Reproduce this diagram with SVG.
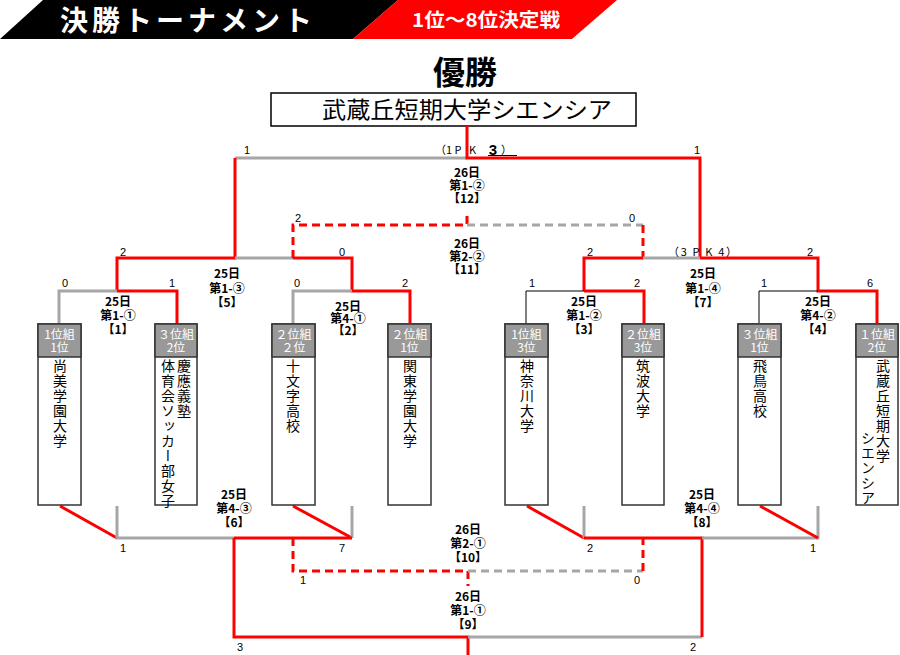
<svg xmlns="http://www.w3.org/2000/svg" width="900" height="655" viewBox="0 0 900 655">
<style>
text{font-family:"Liberation Sans","Noto Sans CJK JP",sans-serif;}
.jp{font-family:"Noto Sans CJK JP","Liberation Sans",sans-serif;}
.r{stroke:#ff0000;stroke-width:3;fill:none;}
.g{stroke:#a6a6a6;stroke-width:3;fill:none;}
.k{stroke:#000;stroke-width:1;fill:none;}
.rd{stroke:#ff0000;stroke-width:3;fill:none;stroke-dasharray:8 5;}
.gd{stroke:#a6a6a6;stroke-width:3;fill:none;stroke-dasharray:8 5;}
.sc{font-size:11px;fill:#000;}
.lb{font-family:"Noto Sans CJK JP","Liberation Sans",sans-serif;font-size:12px;font-weight:bold;fill:#000;text-anchor:middle;}
.box{fill:#fff;stroke:#333;stroke-width:1.5;}
.hd{fill:#999;stroke:#333;stroke-width:1.5;}
.ht{font-family:"Noto Sans CJK JP",sans-serif;font-size:12px;fill:#fff;text-anchor:middle;}
.nm{font-family:"Noto Sans CJK JP",sans-serif;font-size:14px;fill:#000;writing-mode:vertical-rl;letter-spacing:1px;}
</style>

<g id="header">
<polygon points="0,39 43,0 398,0 353,39" fill="#000"/>
<polygon points="353,39 398,0 617,0 572,39" fill="#ff0000"/>
<text x="60" y="31" class="jp" font-size="28" font-weight="bold" fill="#fff" letter-spacing="4">決勝トーナメント</text>
<text x="412" y="27" class="jp" font-size="19" font-weight="bold" fill="#fff" textLength="148" lengthAdjust="spacingAndGlyphs">1位～8位決定戦</text>
</g>

<g id="champion">
<text x="465" y="84" class="jp" font-size="32" font-weight="bold" text-anchor="middle">優勝</text>
<rect x="271" y="93" width="365" height="33" fill="#fff" stroke="#000" stroke-width="1.5"/>
<text x="467" y="118" class="jp" font-size="23" text-anchor="middle" textLength="290" lengthAdjust="spacingAndGlyphs">武蔵丘短期大学シエンシア</text>
</g>

<g id="connectors">
<path class="g" d="M235 158 H467"/>
<path class="r" d="M467 126 V158 H700 V258"/>
<path class="r" d="M117 291 V258 H235 V158"/>
<path class="g" d="M235 258 H293"/>
<path class="r" d="M293 258 H352 V291 H410 V323"/>
<path class="g" d="M59 323 V291 H117"/>
<path class="r" d="M117 291 H177 V323"/>
<path class="g" d="M293 323 V291 H352"/>
<path class="rd" d="M293 258 V225 H467 V212"/>
<path class="gd" d="M467 225 H643"/>
<path class="rd" d="M643 225 V258"/>
<path class="r" d="M584 291 V258 H643"/>
<path class="g" d="M643 258 H700"/>
<path class="r" d="M700 258 H818 V291 H877 V323"/>
<path class="k" d="M526 323 V291 H584"/>
<path class="r" d="M584 291 H644 V323"/>
<path class="k" d="M759 323 V291 H818"/>
<path class="r" d="M60 506 L117 538"/>
<path class="g" d="M117 506 V538 H234"/>
<path class="r" d="M293 506 L352 538"/>
<path class="g" d="M352 506 V538"/>
<path class="r" d="M234 538 H352"/>
<path class="r" d="M234 538 V637 H468 V655"/>
<path class="g" d="M468 637 H702"/>
<path class="rd" d="M293 538 V571 H468 V586"/>
<path class="gd" d="M468 571 H643"/>
<path class="rd" d="M643 571 V538"/>
<path class="r" d="M527 506 L584 538"/>
<path class="g" d="M584 506 V538"/>
<path class="r" d="M584 538 H702 V637"/>
<path class="g" d="M702 538 H818 V506"/>
<path class="r" d="M760 506 L818 538"/>
<line class="k" x1="488" y1="155.5" x2="517" y2="155.5"/>
</g>

<g id="scores">
<text class="sc" x="247" y="154" text-anchor="middle">1</text>
<text class="sc" x="697" y="154" text-anchor="middle">1</text>
<text class="sc jp" x="435" y="154">（1 P</text>
<text class="sc jp" x="469" y="154">K</text>
<text x="493" y="155" font-size="15" font-weight="bold" text-anchor="middle">3</text>
<text class="sc jp" x="501" y="154">）</text>
<text class="sc" x="298" y="222" text-anchor="middle">2</text>
<text class="sc" x="632" y="222" text-anchor="middle">0</text>
<text class="sc" x="123" y="256" text-anchor="middle">2</text>
<text class="sc" x="342" y="256" text-anchor="middle">0</text>
<text class="sc" x="590" y="256" text-anchor="middle">2</text>
<text class="sc jp" x="668" y="256" textLength="69" lengthAdjust="spacing">（3 P K 4）</text>
<text class="sc" x="810" y="256" text-anchor="middle">2</text>
<text class="sc" x="65" y="287" text-anchor="middle">0</text>
<text class="sc" x="172" y="287" text-anchor="middle">1</text>
<text class="sc" x="297" y="287" text-anchor="middle">0</text>
<text class="sc" x="405" y="287" text-anchor="middle">2</text>
<text class="sc" x="532" y="287" text-anchor="middle">1</text>
<text class="sc" x="637" y="287" text-anchor="middle">2</text>
<text class="sc" x="764" y="287" text-anchor="middle">1</text>
<text class="sc" x="870" y="287" text-anchor="middle">6</text>
<text class="sc" x="123" y="552" text-anchor="middle">1</text>
<text class="sc" x="342" y="552" text-anchor="middle">7</text>
<text class="sc" x="590" y="552" text-anchor="middle">2</text>
<text class="sc" x="813" y="552" text-anchor="middle">1</text>
<text class="sc" x="303" y="584" text-anchor="middle">1</text>
<text class="sc" x="637" y="584" text-anchor="middle">0</text>
<text class="sc" x="240" y="651" text-anchor="middle">3</text>
<text class="sc" x="693" y="651" text-anchor="middle">2</text>
</g>

<g id="match-labels">
<text class="lb" x="467" y="177">26日<tspan x="467" dy="13">第1-②</tspan><tspan x="467" dy="13">【12】</tspan></text>
<text class="lb" x="467" y="248">26日<tspan x="467" dy="13">第2-②</tspan><tspan x="467" dy="13">【11】</tspan></text>
<text class="lb" x="227" y="278">25日<tspan x="227" dy="15">第1-③</tspan><tspan x="227" dy="14">【5】</tspan></text>
<text class="lb" x="703" y="278">25日<tspan x="703" dy="15">第1-④</tspan><tspan x="703" dy="14">【7】</tspan></text>
<text class="lb" x="118" y="306">25日<tspan x="118" dy="14">第1-①</tspan><tspan x="118" dy="14">【1】</tspan></text>
<text class="lb" x="348" y="311">25日<tspan x="348" dy="12">第4-①</tspan><tspan x="348" dy="12">【2】</tspan></text>
<text class="lb" x="584" y="306">25日<tspan x="584" dy="14">第1-②</tspan><tspan x="584" dy="14">【3】</tspan></text>
<text class="lb" x="818" y="306">25日<tspan x="818" dy="14">第4-②</tspan><tspan x="818" dy="14">【4】</tspan></text>
<text class="lb" x="234" y="499">25日<tspan x="234" dy="14">第4-③</tspan><tspan x="234" dy="14">【6】</tspan></text>
<text class="lb" x="702" y="499">25日<tspan x="702" dy="14">第4-④</tspan><tspan x="702" dy="14">【8】</tspan></text>
<text class="lb" x="468" y="534">26日<tspan x="468" dy="14">第2-①</tspan><tspan x="468" dy="14">【10】</tspan></text>
<text class="lb" x="468" y="601">26日<tspan x="468" dy="14">第1-①</tspan><tspan x="468" dy="14">【9】</tspan></text>
</g>

<g id="team1">
<rect class="box" x="38" y="324" width="43" height="181"/>
<rect class="hd" x="38" y="324" width="43" height="33"/>
<text class="ht" x="59.5" y="339">1位組<tspan x="59.5" dy="13">1位</tspan></text>
<text class="nm" x="60" y="359">尚美学園大学</text>
</g>
<g id="team2">
<rect class="box" x="155" y="324" width="42" height="181"/>
<rect class="hd" x="155" y="324" width="42" height="33"/>
<text class="ht" x="176" y="339">３位組<tspan x="176" dy="13">2位</tspan></text>
<text class="nm" x="184" y="359">慶應義塾</text>
<text class="nm" x="168" y="359">体育会ソッカー部女子</text>
</g>
<g id="team3">
<rect class="box" x="272" y="324" width="43" height="181"/>
<rect class="hd" x="272" y="324" width="43" height="33"/>
<text class="ht" x="293.5" y="339">２位組<tspan x="293.5" dy="13">２位</tspan></text>
<text class="nm" x="293" y="359">十文字高校</text>
</g>
<g id="team4">
<rect class="box" x="388" y="324" width="43" height="181"/>
<rect class="hd" x="388" y="324" width="43" height="33"/>
<text class="ht" x="409.5" y="339">２位組<tspan x="409.5" dy="13">1位</tspan></text>
<text class="nm" x="410" y="359">関東学園大学</text>
</g>
<g id="team5">
<rect class="box" x="505" y="324" width="43" height="181"/>
<rect class="hd" x="505" y="324" width="43" height="33"/>
<text class="ht" x="526.5" y="339">1位組<tspan x="526.5" dy="13">3位</tspan></text>
<text class="nm" x="527" y="359">神奈川大学</text>
</g>
<g id="team6">
<rect class="box" x="622" y="324" width="42" height="181"/>
<rect class="hd" x="622" y="324" width="42" height="33"/>
<text class="ht" x="643" y="339">２位組<tspan x="643" dy="13">3位</tspan></text>
<text class="nm" x="643" y="359">筑波大学</text>
</g>
<g id="team7">
<rect class="box" x="738" y="324" width="43" height="181"/>
<rect class="hd" x="738" y="324" width="43" height="33"/>
<text class="ht" x="759.5" y="339">３位組<tspan x="759.5" dy="13">1位</tspan></text>
<text class="nm" x="760" y="359">飛鳥高校</text>
</g>
<g id="team8">
<rect class="box" x="856" y="324" width="42" height="181"/>
<rect class="hd" x="856" y="324" width="42" height="33"/>
<text class="ht" x="877" y="339">１位組<tspan x="877" dy="13">2位</tspan></text>
<text class="nm" x="883" y="359">武蔵丘短期大学</text>
<text class="nm" x="868" y="431">シエンシア</text>
</g>
</svg>
